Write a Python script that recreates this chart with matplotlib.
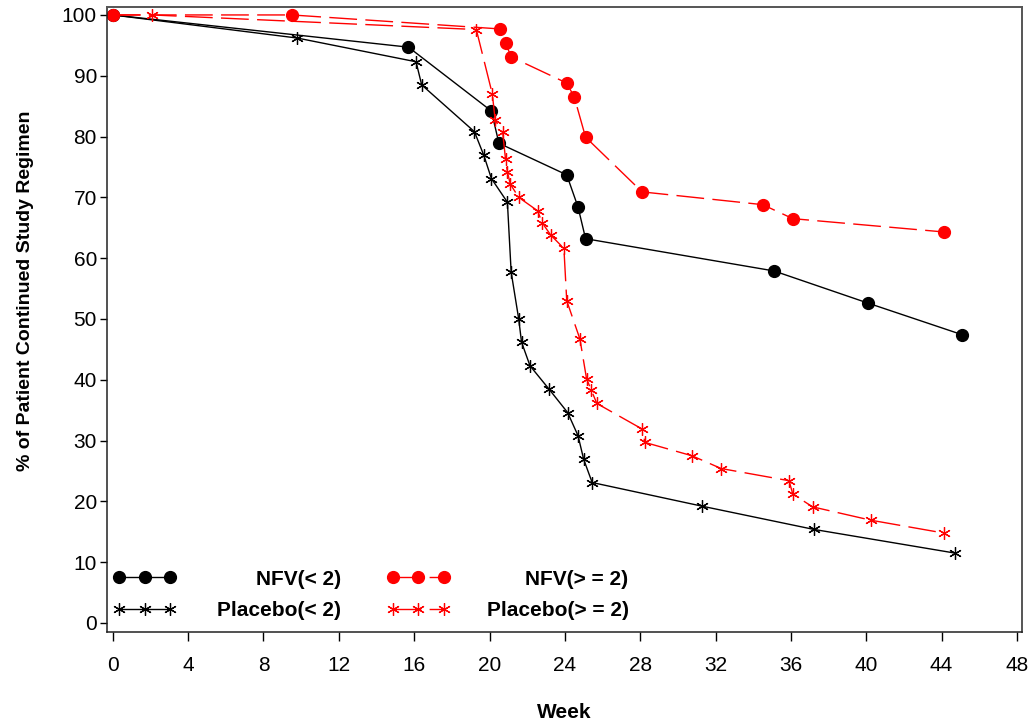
import matplotlib
matplotlib.use("Agg")
import matplotlib.pyplot as plt

# Kaplan-Meier style curves (week, % continued)
nfv_lt2_week = [0, 15.7, 20.1, 20.5, 24.1, 24.7, 25.1, 35.1, 40.1, 45.1]
nfv_lt2_pct = [100, 94.7, 84.2, 78.9, 73.7, 68.4, 63.2, 57.9, 52.6, 47.4]

pla_lt2_week = [0, 9.8, 16.1, 16.4, 19.2, 19.7, 20.1, 20.95, 21.15, 21.55,
                21.7, 22.15, 23.15, 24.15, 24.7, 25.0, 25.45, 31.3, 37.2, 44.7]
pla_lt2_pct = [100, 96.2, 92.3, 88.5, 80.8, 76.9, 73.1, 69.2, 57.7, 50.0,
               46.2, 42.3, 38.5, 34.6, 30.8, 26.9, 23.1, 19.2, 15.4, 11.5]

nfv_ge2_week = [0, 9.5, 20.55, 20.85, 21.15, 24.1, 24.5, 25.1, 28.1, 34.5, 36.1, 44.15]
nfv_ge2_pct = [100, 100, 97.7, 95.4, 93.1, 88.8, 86.5, 79.9, 70.9, 68.8, 66.5, 64.3]

pla_ge2_week = [0, 2.1, 19.3, 20.15, 20.3, 20.7, 20.85, 20.95, 21.1, 21.55,
                22.55, 22.8, 23.25, 23.95, 24.1, 24.8, 25.15, 25.4, 25.7, 28.1,
                28.25, 30.75, 32.3, 35.9, 36.1, 37.15, 40.25, 44.1]
pla_ge2_pct = [100, 100, 97.6, 87.0, 82.7, 80.7, 76.3, 74.2, 72.2, 70.0,
               67.8, 65.8, 63.8, 61.6, 53.0, 46.7, 40.2, 38.3, 36.1, 31.9,
               29.7, 27.5, 25.4, 23.4, 21.2, 19.1, 16.9, 14.8]

labels = ["NFV(< 2)", "Placebo(< 2)", "NFV(> = 2)", "Placebo(> = 2)"]
xticks = list(range(0, 49, 4))
yticks = list(range(0, 101, 10))

plt.rcParams['font.family'] = ['Liberation Sans', 'DejaVu Sans']

fig = plt.figure(figsize=(10.32, 7.25), dpi=100)
ax = fig.add_axes([0.1034, 0.1283, 0.8866, 0.8614])

star = (6, 2, 0)
dash = (0, (20, 6))

l1, = ax.plot(nfv_lt2_week, nfv_lt2_pct, color='black', lw=1.0, marker='o',
              ms=8.5, label=labels[0])
l2, = ax.plot(pla_lt2_week, pla_lt2_pct, color='black', lw=1.0, marker=star,
              ms=9, mew=0.9, label=labels[1])
l3, = ax.plot(nfv_ge2_week, nfv_ge2_pct, color='red', lw=1.0, ls=dash, marker='o',
              ms=8.5, label=labels[2])
l4, = ax.plot(pla_ge2_week, pla_ge2_pct, color='red', lw=1.0, ls=dash, marker=star,
              ms=9, mew=0.9, label=labels[3])

ax.set_xlim(-0.32, 48.25)
ax.set_ylim(-1.48, 101.23)
ax.set_xticks(xticks)
ax.set_yticks(yticks)
ax.tick_params(axis='x', length=6.5, width=1, pad=11, labelsize=15)
ax.tick_params(axis='y', length=5, width=1, pad=2, labelsize=15)

for side in ['left', 'bottom']:
    ax.spines[side].set_linewidth(1.1)
    ax.spines[side].set_color('#222222')
for side in ['top', 'right']:
    ax.spines[side].set_linewidth(1.4)
    ax.spines[side].set_color('#555555')

ax.set_xlabel("Week", fontsize=15, fontweight='bold', va='top')
ax.xaxis.set_label_coords(0.5, -0.114)
ax.set_ylabel("% of Patient Continued Study Regimen", fontsize=14, fontweight='bold')
ax.yaxis.set_label_coords(-0.079, 0.546)

leg = ax.legend(handles=[l1, l2, l3, l4], ncol=2, loc='lower left',
                bbox_to_anchor=(0.0066, 0.019), numpoints=3, handlelength=3.05,
                frameon=False, borderpad=0, borderaxespad=0, columnspacing=2.2,
                labelspacing=0.6, prop={'weight': 'bold', 'size': 15})

# right-align legend labels inside fixed-width entries (SAS-like legend)
fig.canvas.draw()
r = fig.canvas.get_renderer()
col_w = [228, 242]
for w, col in zip(col_w, leg._legend_handle_box.get_children()):
    for item in col.get_children():
        hbox, tbox = item.get_children()
        hw = hbox.get_window_extent(r).width
        tw = tbox.get_window_extent(r).width
        item.sep = (w - hw - tw) * 72 / fig.dpi

fig.savefig("out.png", dpi=100)
